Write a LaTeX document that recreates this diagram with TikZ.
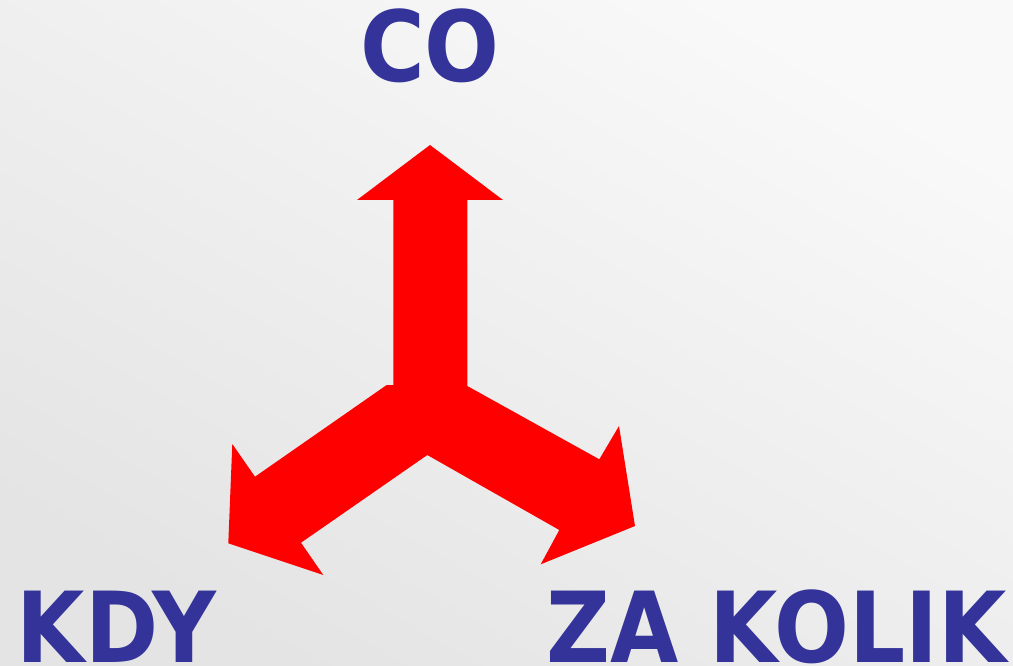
\documentclass[tikz,border=0pt]{standalone}
\usepackage{fontspec}
\setmainfont{DejaVu Sans}
\definecolor{txtblue}{RGB}{51,51,153}
\definecolor{bgA}{RGB}{249,249,249}
\definecolor{bgB}{RGB}{228,228,228}
\begin{document}
\begin{tikzpicture}[x=1pt,y=-1pt,
  label/.style={inner sep=0pt, outer sep=0pt, text=txtblue, font=\fontsize{98}{98}\selectfont\bfseries, anchor=base, xscale=0.9}]
\useasboundingbox (0,0) rectangle (1013,666);
\shade[shading=axis, top color=bgA, bottom color=bgB, shading angle=-30] (0,0) rectangle (1013,666);
\fill[red] (430,145) -- (503,200) -- (467.3,200) -- (467.3,386)
  -- (599.3,459.3) -- (619,426) -- (635,526) -- (540.7,564.3) -- (559.3,530)
  -- (427.3,455) -- (301,542.7) -- (323.3,575) -- (228.3,543.3) -- (232.3,444)
  -- (255,476.7) -- (386.7,385) -- (393.3,385) -- (393.3,200) -- (357,200) -- cycle;
\node[label] (co) at (430,82) {CO};
\node[label] (kdy) at (116.5,662) {KDY};
\node[label] (zakolik) at (776.5,662) {ZA KOLIK};
\end{tikzpicture}
\end{document}
